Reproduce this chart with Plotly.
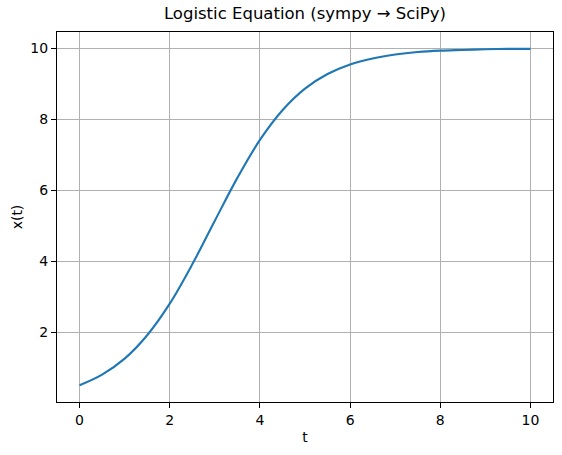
import plotly.graph_objects as go

# Values
t_values = [0, 0.5, 1, 1.5, 2, 2.5, 3, 3.5, 4, 4.5, 5,
            5.5, 6, 6.5, 7, 7.5, 8, 8.5, 9, 9.5, 10]
x_values = [0.50, 0.80, 1.25, 1.91, 2.80, 3.91, 5.14, 6.35, 7.42, 8.26, 8.87,
            9.28, 9.55, 9.72, 9.83, 9.90, 9.94, 9.96, 9.98, 9.99, 9.99]

x_ticks = [0, 2, 4, 6, 8, 10]
y_ticks = [2, 4, 6, 8, 10]

font_family = "DejaVu Sans"

fig = go.Figure(go.Scatter(
    x=t_values,
    y=x_values,
    mode="lines",
    line=dict(color="#1f77b4", width=2.1, shape="spline", smoothing=1.0),
    showlegend=False,
))

axis_common = dict(
    showgrid=True,
    gridcolor="#b0b0b0",
    gridwidth=1,
    showline=True,
    linecolor="black",
    linewidth=1,
    mirror=True,
    ticks="outside",
    ticklen=5,
    tickwidth=1,
    tickcolor="black",
    zeroline=False,
    automargin=False,
    tickfont=dict(family=font_family, size=14, color="black"),
)

fig.update_xaxes(
    range=[-0.5, 10.5],
    tickvals=x_ticks,
    title=dict(text="t", font=dict(family=font_family, size=14, color="black"), standoff=5),
    **axis_common,
)
fig.update_yaxes(
    range=[0.0254, 10.466],
    tickvals=y_ticks,
    title=dict(text="x(t)", font=dict(family=font_family, size=14, color="black"), standoff=4),
    **axis_common,
)

fig.update_layout(
    title=dict(
        text="Logistic Equation (sympy → SciPy)",
        x=(57 + 553) / 2 / 562,
        xanchor="center",
        y=1 - 13 / 455,
        yanchor="middle",
        font=dict(family=font_family, size=16.5, color="black"),
    ),
    width=562,
    height=455,
    margin=dict(l=57, r=9, t=32, b=53),
    plot_bgcolor="white",
    paper_bgcolor="white",
)

# the page's default body margin shifts the chart by 8px; drop it
fig.write_html(
    "out.html",
    config={"displayModeBar": False},
    post_script="document.body.style.margin = '0';",
)
